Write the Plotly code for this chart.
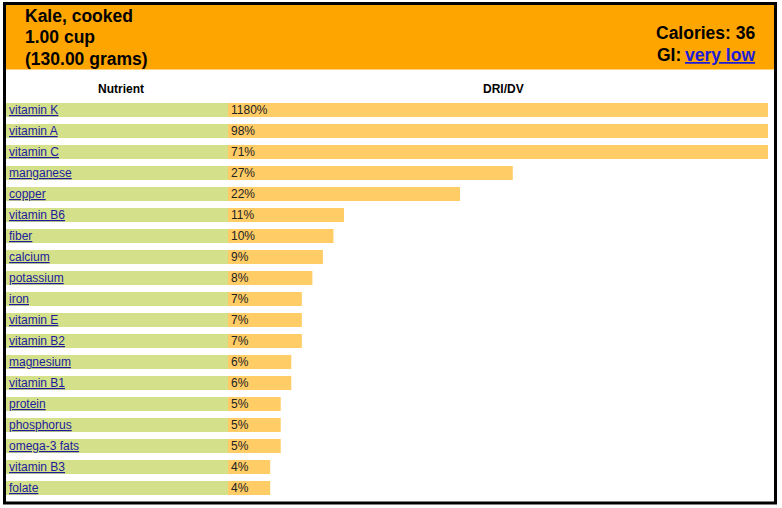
import plotly.graph_objects as go

# food header info
food_name = 'Kale, cooked'
serving = '1.00 cup'
grams = '(130.00 grams)'
calories = 36
gi_rating = 'very low'

# nutrients, top to bottom, with % of DRI/DV
nutrients = ['vitamin K', 'vitamin A', 'vitamin C', 'manganese', 'copper',
             'vitamin B6', 'fiber', 'calcium', 'potassium', 'iron', 'vitamin E',
             'vitamin B2', 'magnesium', 'vitamin B1', 'protein', 'phosphorus',
             'omega-3 fats', 'vitamin B3', 'folate']
dri_dv = [1180, 98, 71, 27, 22, 11, 10, 9, 8, 7, 7, 7, 6, 6, 5, 5, 5, 4, 4]

W, H = 782, 508
FONT = 'Liberation Sans, Arial, sans-serif'
LINK = '#1c1c9c'

def px(x):
    return x / W

def py(y):
    return 1 - y / H

fig = go.Figure()

# nutrient name column (green cells)
fig.add_trace(go.Bar(
    y=nutrients, x=[1] * len(nutrients), orientation='h',
    xaxis='x', yaxis='y',
    marker=dict(color='#d4e18a', line=dict(width=0)),
    text=nutrients, textposition='inside', insidetextanchor='start',
    textangle=0, constraintext='none',
    insidetextfont=dict(family=FONT, size=12, color=LINK, lineposition='under'),
    hoverinfo='skip',
))

# DRI/DV bars
fig.add_trace(go.Bar(
    y=nutrients, x=dri_dv, orientation='h',
    xaxis='x2', yaxis='y',
    marker=dict(color='#ffcc66', line=dict(width=0)),
    text=[f'{v}%' for v in dri_dv], textposition='inside', insidetextanchor='start',
    textangle=0, constraintext='none',
    insidetextfont=dict(family=FONT, size=12, color='#222222'),
    hoverinfo='skip',
))

hidden = dict(showgrid=False, zeroline=False, showticklabels=False, showline=False, fixedrange=True)

fig.update_layout(
    width=W, height=H,
    margin=dict(l=0, r=0, t=0, b=0),
    paper_bgcolor='white', plot_bgcolor='white',
    showlegend=False, bargap=1/3,
    xaxis=dict(domain=[px(6), px(228)], range=[0, 1], **hidden),
    xaxis2=dict(domain=[px(228), px(768)], range=[0, 51.2], anchor='y', **hidden),
    yaxis=dict(domain=[py(498.5), py(99.5)], categoryorder='array', categoryarray=nutrients,
               autorange='reversed', **hidden),
    shapes=[
        dict(type='rect', xref='paper', yref='paper', x0=px(6), x1=px(774), y0=py(5), y1=py(69.5),
             fillcolor='#ffa500', line=dict(width=0), layer='below'),
        dict(type='rect', xref='paper', yref='paper', x0=px(4.5), x1=px(775.5), y0=py(3.5), y1=py(503),
             line=dict(color='black', width=3), fillcolor='rgba(0,0,0,0)'),
    ],
)

hdr = dict(family=FONT, size=17.5, color='black', weight='bold')
notes = [
    dict(text=food_name, x=px(23), y=py(16.5), xanchor='left', font=hdr),
    dict(text=serving, x=px(23), y=py(37.5), xanchor='left', font=hdr),
    dict(text=grams, x=px(23), y=py(58.5), xanchor='left', font=hdr),
    dict(text=f'Calories: {calories}', x=px(757), y=py(32.5), xanchor='right', font=hdr),
    dict(text='GI:', x=px(683), y=py(54.5), xanchor='right', font=hdr),
    dict(text=gi_rating, x=px(757), y=py(54.5), xanchor='right',
         font=dict(family=FONT, size=17.5, color='#1c1cd8', weight='bold', lineposition='under')),
    dict(text='Nutrient', x=px(121), y=py(88.5), xanchor='center',
         font=dict(family=FONT, size=12, color='black', weight='bold')),
    dict(text='DRI/DV', x=px(503), y=py(88.5), xanchor='center',
         font=dict(family=FONT, size=12, color='black', weight='bold')),
]
for n in notes:
    fig.add_annotation(xref='paper', yref='paper', yanchor='middle', showarrow=False, **n)

# page body has a default 8px margin; drop it so the figure sits at the window corner
fig.write_html('out.html', config={'displayModeBar': False},
               post_script="document.body.style.margin='0';")
